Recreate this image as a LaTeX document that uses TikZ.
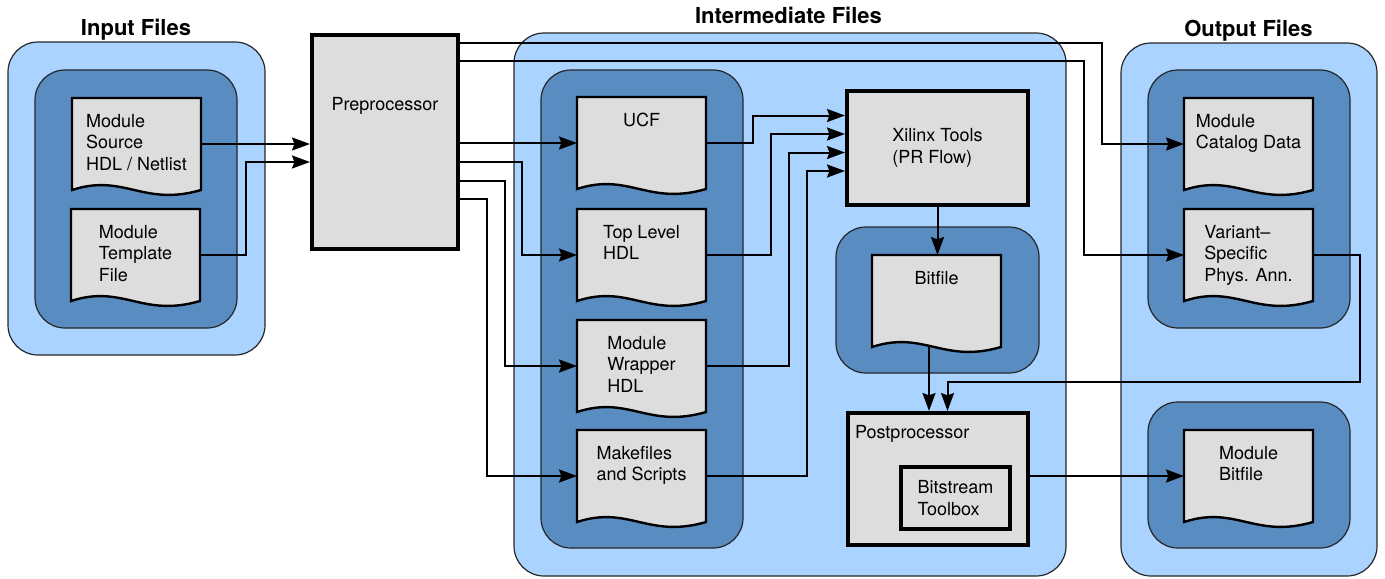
\documentclass[tikz,border=0pt]{standalone}
\usepackage{fontspec}
\setmainfont{TeX Gyre Heros}
\usetikzlibrary{arrows.meta,calc}
\pgfdeclarelayer{bg}
\pgfdeclarelayer{docs}
\pgfsetlayers{bg,docs,main}
\definecolor{lightblu}{RGB}{170,212,255}
\definecolor{darkblu}{RGB}{89,140,193}
\definecolor{docgray}{RGB}{221,221,221}
\newcommand\docshape[1]{\path[docpath] (#1.north west) -- (#1.north east) -- (#1.south east) .. controls ($(#1.south east)+(-58,17)$) and ($(#1.south east)+(-77,-17)$) .. (#1.south west) -- cycle;}
\begin{document}
\begin{tikzpicture}[x=0.5pt,y=-0.5pt,
 font=\fontsize{9pt}{10.75pt}\selectfont,
 outerbox/.style={fill=lightblu,draw=black!85,line width=0.6pt,rounded corners=15pt},
 innerbox/.style={fill=darkblu,draw=black!85,line width=0.6pt,rounded corners=15pt},
 docnode/.style={minimum width=64.5pt,minimum height=46pt,inner sep=0pt,outer sep=0pt},
 doclab/.style={anchor=north,yshift=-7.8pt,align=left,inner sep=0pt},
 docpath/.style={fill=docgray,draw=black,line width=1.2pt,line join=miter},
 tool/.style={fill=docgray,draw=black,line width=2pt,inner sep=0pt,outer sep=1pt,align=left},
 conn/.style={draw=black,line width=1pt,-{Stealth[length=9pt,width=6.5pt,inset=1.2pt]}},
 title/.style={font=\fontsize{11pt}{13pt}\selectfont\bfseries,anchor=base,inner sep=0pt}]

\useasboundingbox (0,0) rectangle (1385,578);

% containers
\begin{pgfonlayer}{bg}
 \path[outerbox] (8,42) rectangle (265,355);
 \path[innerbox] (35,70) rectangle (237,328);
 \path[outerbox] (514,33) rectangle (1066,576);
 \path[innerbox] (541,70) rectangle (743,548);
 \path[innerbox] (836,227) rectangle (1039,373);
 \path[outerbox] (1121,43) rectangle (1377,576);
 \path[innerbox] (1148,70) rectangle (1350,328);
 \path[innerbox] (1148,402) rectangle (1350,548);
\end{pgfonlayer}

% titles
\node[title] (tin) at (136,35) {Input Files};
\node[title] (tmid) at (788.5,24) {Intermediate Files};
\node[title] (tout) at (1248.5,36.5) {Output Files};

% documents
\node[docnode,label={[doclab]north:{Module\\Source\\HDL / Netlist}}] (src) at (136.5,144) {};
\node[docnode,label={[doclab]north:{Module\\Template\\File}}] (tmpl) at (135.5,255) {};
\node[docnode,label={[doclab]north:{UCF}}] (ucf) at (641.5,143) {};
\node[docnode,label={[doclab]north:{Top Level\\HDL}}] (top) at (641.5,255) {};
\node[docnode,label={[doclab]north:{Module\\Wrapper\\HDL}}] (wrap) at (641.5,366) {};
\node[docnode,label={[doclab]north:{Makefiles\\and Scripts}}] (make) at (641.5,476) {};
\node[docnode,label={[doclab]north:{Bitfile}}] (bit) at (936.5,301) {};
\node[docnode,label={[doclab]north:{Module\\Catalog Data}}] (cat) at (1248.5,144) {};
\node[docnode,label={[doclab]north:{Variant–\\Specific\\Phys. Ann.}}] (var) at (1248.5,255) {};
\node[docnode,label={[doclab]north:{Module\\Bitfile}}] (mbit) at (1248.5,476) {};

\begin{pgfonlayer}{docs}
 \docshape{src}\docshape{tmpl}\docshape{ucf}\docshape{top}\docshape{wrap}
 \docshape{make}\docshape{bit}\docshape{cat}\docshape{var}\docshape{mbit}
\end{pgfonlayer}

% tool boxes
\node[tool,minimum width=73pt,minimum height=107pt,
 label={[anchor=north,yshift=-31.8pt,inner sep=0pt]north:Preprocessor}] (pre) at (385,142) {};
\node[tool,minimum width=90.5pt,minimum height=57pt] (xil) at (937.5,148) {Xilinx Tools\\(PR Flow)};
\node[tool,minimum width=90pt,minimum height=66pt,
 label={[anchor=north west,xshift=4.3pt,yshift=-7pt,inner sep=0pt]north west:Postprocessor}] (post) at (938,479) {};
\node[tool,minimum width=54.5pt,minimum height=31pt] (bst) at (955.5,498) {Bitstream\\Toolbox};

% connectors: input side
\draw[conn] (src.east) -- (pre.west |- src.east);
\draw[conn] (tmpl.east) -| ($(pre.north west)+(-64,129)$) -- ($(pre.north west)+(0,129)$);

% preprocessor outputs
\draw[conn] ($(pre.north east)+(0,9.5)$) -| ($(cat.west)+(-82,0)$) -- (cat.west);
\draw[conn] ($(pre.north east)+(0,28)$) -| ($(var.west)+(-100,0)$) -- (var.west);
\draw[conn] (pre.east |- ucf.west) -- (ucf.west);
\draw[conn] ($(pre.north east)+(0,129)$) -| ($(top.west)+(-55,0)$) -- (top.west);
\draw[conn] ($(pre.north east)+(0,148)$) -| ($(wrap.west)+(-72,0)$) -- (wrap.west);
\draw[conn] ($(pre.north east)+(0,166)$) -| ($(make.west)+(-90,0)$) -- (make.west);

% into Xilinx tools
\draw[conn] (ucf.east) -| ($(xil.north west)+(-92,26.5)$) -- ($(xil.north west)+(0,26.5)$);
\draw[conn] (top.east) -| ($(xil.north west)+(-74,45)$) -- ($(xil.north west)+(0,45)$);
\draw[conn] (wrap.east) -| ($(xil.north west)+(-56,63.5)$) -- ($(xil.north west)+(0,63.5)$);
\draw[conn] (make.east) -| ($(xil.north west)+(-38,82)$) -- ($(xil.north west)+(0,82)$);

% Xilinx -> bitfile -> postprocessor
\draw[conn] (xil.south) -- (xil.south |- bit.north);
\coordinate (b1) at ($(post.north)+(-9,0)$);
\draw[conn] (b1 |- bit.south) -- (b1);
\coordinate (b2) at ($(post.north)+(9.5,0)$);
\draw[conn] (var.east) -- ++(47,0) |- ($(b2)+(0,-29)$) -- (b2);

% postprocessor -> module bitfile
\draw[conn] (post.east |- mbit.west) -- (mbit.west);
\end{tikzpicture}
\end{document}
